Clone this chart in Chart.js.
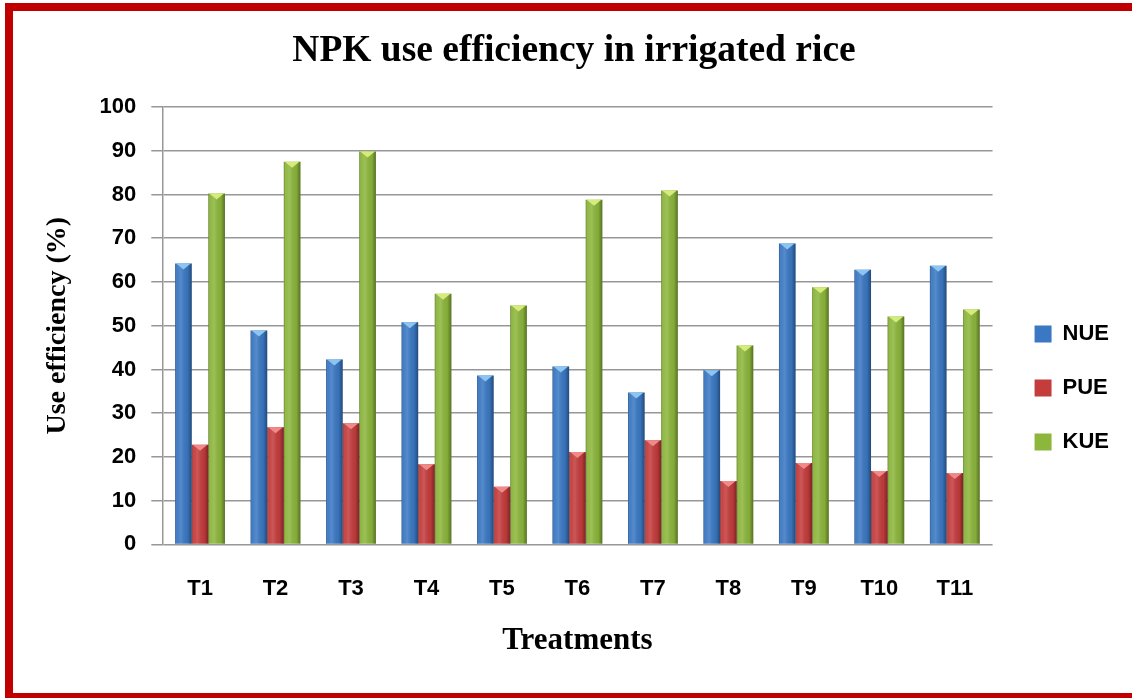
<!DOCTYPE html>
<html>
<head>
<meta charset="utf-8">
<script src="https://cdn.jsdelivr.net/npm/chart.js@4.4.1/dist/chart.umd.min.js"></script>
<style>
  html, body { margin: 0; padding: 0; background: #fff; }
  #wrap { position: relative; width: 1132px; height: 698px; overflow: hidden; }
  #frame { position: absolute; left: 5px; top: 3px; width: 1300px; height: 698px; box-sizing: border-box; border: 8px solid #c00000; }
  #chart { position: absolute; left: 0; top: 0; }
</style>
</head>
<body>
<div id="wrap">
  <div id="frame"></div>
  <canvas id="chart" width="1132" height="698"></canvas>
</div>
<script>
// ── data ──
const treatments = ['T1','T2','T3','T4','T5','T6','T7','T8','T9','T10','T11'];
const nue = [64.2, 48.9, 42.3, 50.8, 38.6, 40.7, 34.7, 39.8, 68.8, 62.8, 63.7];
const pue = [22.8, 26.8, 27.7, 18.3, 13.2, 21.1, 23.8, 14.5, 18.6, 16.8, 16.3];
const kue = [80.2, 87.5, 89.8, 57.3, 54.6, 78.8, 80.9, 45.5, 58.8, 52.1, 53.7];
const yTicks = [0, 10, 20, 30, 40, 50, 60, 70, 80, 90, 100];

// ── styles ──
const BASE = { NUE: '#3a78c3', PUE: '#c43c3c', KUE: '#8cb63c' };
const TOP  = { NUE: '#8cc4f2', PUE: '#f08a88', KUE: '#d6ec7a' };
const SANS = "'Liberation Sans', Arial, sans-serif";
const SERIF = "'Liberation Serif', 'Times New Roman', serif";
const LEGEND_DX = 10, LEGEND_DY = 39;

// excel-ish bevel on each bar, drawn from the bar elements' own geometry
const bevel = {
  id: 'bevel',
  afterDatasetsDraw(chart) {
    const ctx = chart.ctx;
    chart.data.datasets.forEach((ds, di) => {
      const meta = chart.getDatasetMeta(di);
      meta.data.forEach(bar => {
        const { x, y, base, width } = bar.getProps(['x', 'y', 'base', 'width'], true);
        const l = x - width / 2, r = x + width / 2;
        const g = ctx.createLinearGradient(l, 0, r, 0);
        g.addColorStop(0, 'rgba(0,0,0,0.32)');
        g.addColorStop(0.12, 'rgba(255,255,255,0.04)');
        g.addColorStop(0.35, 'rgba(255,255,255,0.14)');
        g.addColorStop(0.75, 'rgba(0,0,0,0.05)');
        g.addColorStop(1, 'rgba(0,0,0,0.38)');
        ctx.save();
        ctx.fillStyle = g;
        ctx.fillRect(l, y, width, base - y);
        ctx.fillStyle = TOP[ds.label];
        ctx.beginPath();
        ctx.moveTo(l + 1, y);
        ctx.lineTo(r - 1, y);
        ctx.lineTo(x, y + 6);
        ctx.closePath();
        ctx.fill();
        ctx.restore();
      });
    });
  }
};

const legendNudge = {
  id: 'legendNudge',
  afterLayout(chart) {
    const lg = chart.legend;
    lg.left += LEGEND_DX; lg.right += LEGEND_DX;
    lg.top += LEGEND_DY; lg.bottom += LEGEND_DY;
  }
};

const mk = (label, data) => ({
  label, data,
  backgroundColor: BASE[label],
  borderWidth: 0,
  categoryPercentage: 0.66,
  barPercentage: 1.0
});

new Chart(document.getElementById('chart').getContext('2d'), {
  type: 'bar',
  data: {
    labels: treatments,
    datasets: [mk('NUE', nue), mk('PUE', pue), mk('KUE', kue)]
  },
  plugins: [bevel, legendNudge],
  options: {
    responsive: false,
    animation: false,
    devicePixelRatio: 1,
    layout: { padding: { left: 39, right: 23, top: 0, bottom: 0 } },
    plugins: {
      title: {
        display: true,
        text: 'NPK use efficiency in irrigated rice',
        color: '#000',
        font: { family: SERIF, size: 37.5, weight: 'bold' },
        padding: { top: 29, bottom: 33 }
      },
      legend: {
        position: 'right',
        labels: {
          color: '#000',
          font: { family: SANS, size: 22, weight: 'bold' },
          boxWidth: 17, boxHeight: 17,
          padding: 32
        }
      },
      tooltip: { enabled: false }
    },
    scales: {
      x: {
        grid: { display: false, drawTicks: true, tickLength: 26 },
        border: { display: false },
        ticks: { color: '#000', font: { family: SANS, size: 22, weight: 'bold' }, padding: 5 },
        title: {
          display: true, text: 'Treatments', color: '#000',
          font: { family: SERIF, size: 31, weight: 'bold' },
          padding: { top: 16, bottom: 38 }
        }
      },
      y: {
        min: 0, max: 100,
        afterBuildTicks: s => { s.ticks = yTicks.map(v => ({ value: v })); },
        grid: { color: '#979797', lineWidth: 1.5, tickLength: 11 },
        border: { display: true, color: '#979797', width: 1.5 },
        ticks: { color: '#000', font: { family: SANS, size: 22, weight: 'bold' }, padding: 15 },
        title: {
          display: true, text: 'Use efficiency (%)', color: '#000',
          font: { family: SERIF, size: 28, weight: 'bold' },
          padding: { top: 2, bottom: 10 }
        }
      }
    }
  }
});
</script>
</body>
</html>
